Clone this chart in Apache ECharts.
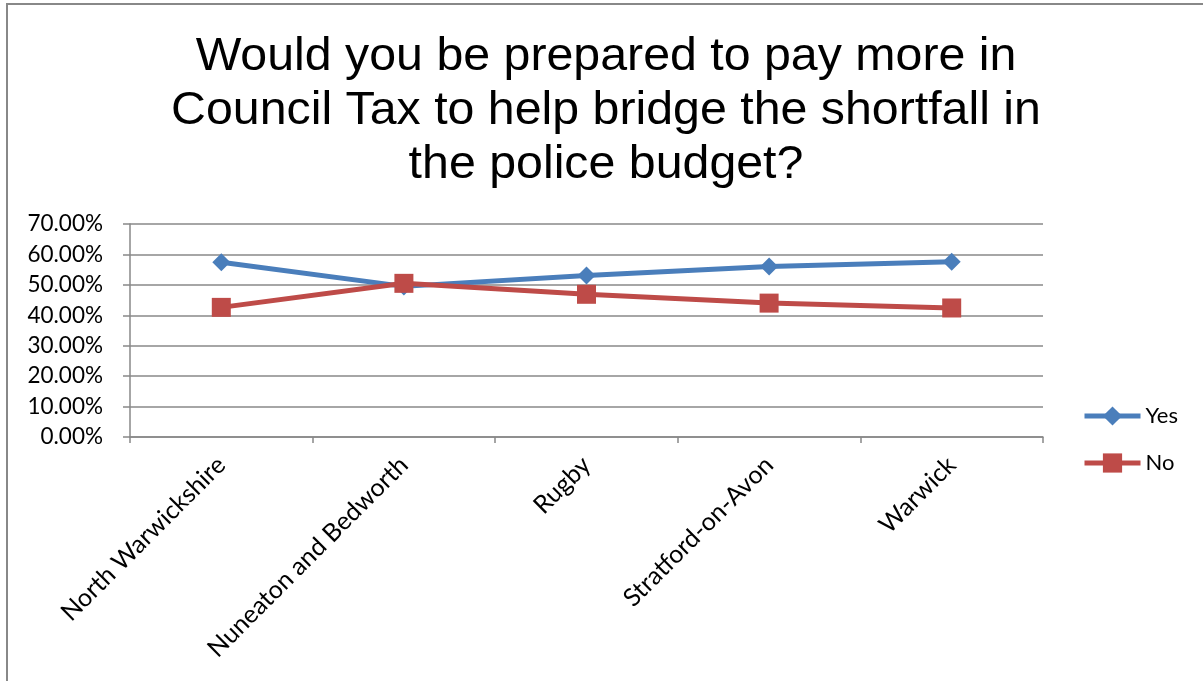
<!DOCTYPE html>
<html>
<head>
<meta charset="utf-8">
<script src="https://cdn.jsdelivr.net/npm/echarts@6/dist/echarts.min.js"></script>
<style>
html,body{margin:0;padding:0;background:#fff;}
#chart{width:1203px;height:681px;}
</style>
</head>
<body>
<div id="chart"></div>
<script>
const titleText = "Would you be prepared to pay more in\nCouncil Tax to help bridge the shortfall in\nthe police budget?";
const categories = ["North Warwickshire", "Nuneaton and Bedworth", "Rugby", "Stratford-on-Avon", "Warwick"];
const yesValues = [0.574, 0.495, 0.531, 0.560, 0.576];
const noValues = [0.426, 0.505, 0.469, 0.440, 0.424];
const yTicks = { min: 0, max: 0.7, interval: 0.1 };

const chart = echarts.init(document.getElementById('chart'));
const labelFont = 'Lato';
chart.setOption({
  backgroundColor: '#fff',
  animation: false,
  graphic: [
    { type: 'rect', shape: { x: 7, y: 4, width: 1400, height: 900 }, style: { fill: 'none', stroke: '#888', lineWidth: 2 }, silent: true },
    { type: 'text', x: 606, y: 30, originX: 0, originY: 0, scaleX: 1.05,
      style: { text: titleText, font: '46px "Liberation Sans"', fill: '#000', align: 'center', verticalAlign: 'top', lineHeight: 54 } }
  ],
  grid: { left: 130, right: 160, top: 224, bottom: 244 },
  legend: {
    orient: 'vertical', left: 1077, top: 400, padding: 5, itemWidth: 56, itemHeight: 24, itemGap: 25,
    lineStyle: { width: 5 },
    textStyle: { fontFamily: labelFont, fontSize: 22, color: '#000' },
    data: ['Yes', 'No']
  },
  xAxis: {
    type: 'category', data: categories, boundaryGap: true,
    axisLine: { lineStyle: { color: '#888', width: 1.5 } },
    axisTick: { show: true, length: 6, lineStyle: { color: '#888', width: 1.5 } },
    axisLabel: { rotate: 45, interval: 0, margin: 24, fontFamily: labelFont, fontSize: 25, color: '#000' }
  },
  yAxis: {
    type: 'value', min: yTicks.min, max: yTicks.max, interval: yTicks.interval,
    axisLine: { show: true, lineStyle: { color: '#888', width: 1.5 } },
    axisTick: { show: true, length: 7, lineStyle: { color: '#888', width: 1.5 } },
    splitLine: { show: true, lineStyle: { color: '#888', width: 1.5 } },
    axisLabel: { margin: 27, fontFamily: labelFont, fontSize: 22.5, color: '#000',
      formatter: v => (v * 100).toFixed(2) + '%' }
  },
  series: [
    { name: 'Yes', type: 'line', data: yesValues, symbol: 'diamond', symbolSize: 18,
      lineStyle: { color: '#4A7EBB', width: 5 }, itemStyle: { color: '#4A7EBB' } },
    { name: 'No', type: 'line', data: noValues, symbol: 'rect', symbolSize: 19,
      lineStyle: { color: '#BE4B48', width: 5 }, itemStyle: { color: '#BE4B48' } }
  ]
});
</script>
</body>
</html>
